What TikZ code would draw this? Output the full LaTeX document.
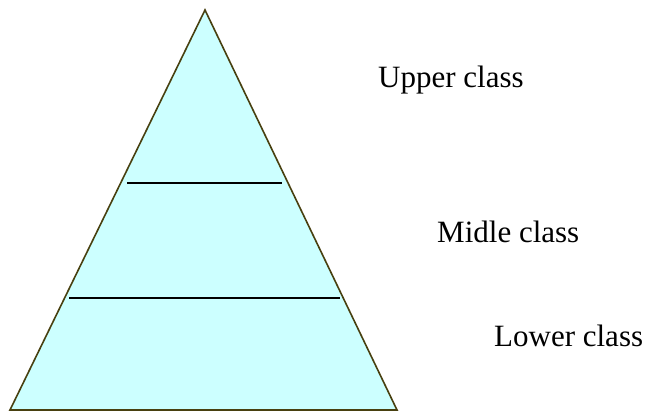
\documentclass[tikz,border=0pt]{standalone}
\usepackage{fontspec}
\setmainfont{Liberation Serif}
\usepackage{tikz}
\usetikzlibrary{positioning}
\usepackage{xcolor}
\definecolor{pyramidfill}{RGB}{204,255,255}
\definecolor{pyramiddraw}{RGB}{72,64,16}

\begin{document}
\begin{tikzpicture}[
  x=1pt,y=-1pt,
  pyramid/.style={draw=pyramiddraw,fill=pyramidfill,line width=1.6pt,line join=miter},
  divider/.style={draw=black,line width=1.8pt},
  class lab/.style={font=\fontsize{31}{36}\selectfont,anchor=base west,inner sep=0pt}
]
% Page frame
\useasboundingbox (0,0) rectangle (650,414);

% Pyramid
\coordinate (apex) at (205,10);
\coordinate (baseL) at (10,410);
\coordinate (baseR) at (397,410);
\draw[pyramid] (apex) -- (baseR) -- (baseL) -- cycle;

% Dividers between the classes
\coordinate (d1L) at (127,183);
\coordinate (d1R) at (282,183);
\coordinate (d2L) at (69,298);
\coordinate (d2R) at (340,298);
\draw[divider] (d1L) -- (d1R);
\draw[divider] (d2L) -- (d2R);

% Class labels
\node[class lab] (upper) at (378,88) {Upper class};
\node[class lab] (middle) at (437,242) {Midle class};
\node[class lab] (lower) at (494,346) {Lower class};

\end{tikzpicture}
\end{document}
